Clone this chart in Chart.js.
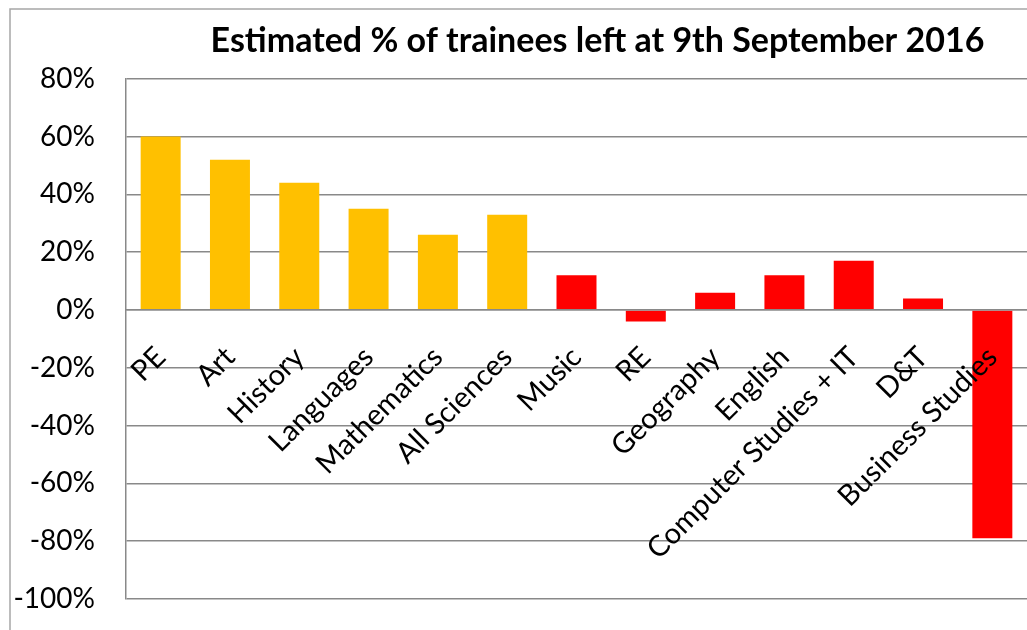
<!DOCTYPE html>
<html><head><meta charset="utf-8">
<script src="https://cdn.jsdelivr.net/npm/chart.js@4"></script>
<style>html,body{margin:0;padding:0;background:#fff;overflow:hidden}#wrap{position:relative;width:1027px;height:630px}</style>
</head><body><div id="wrap"><canvas id="c" width="1027" height="630"></canvas></div>
<script>
const categories = ['PE','Art','History','Languages','Mathematics','All Sciences','Music','RE','Geography','English','Computer Studies + IT','D&T','Business Studies'];
const values = [60, 52, 44, 35, 26, 33, 12, -4, 6, 12, 17, 4, -79];
const groups = ['high','high','high','high','high','high','low','low','low','low','low','low','low'];
const yMin = -100, yMax = 80, yStep = 20;
const titleText = 'Estimated % of trainees left at 9th September 2016';

const COLORS = { high: '#FFC000', low: '#FF0000' };
const GRID = '#898989';

const framePlugin = {
  id: 'frame',
  beforeDraw(chart) {
    const c = chart.ctx;
    c.save();
    c.fillStyle = '#fff';
    c.fillRect(0, 0, chart.width, chart.height);
    c.strokeStyle = '#a6a6a6';
    c.lineWidth = 1.5;
    c.strokeRect(10, 9, chart.width + 40, chart.height + 40);
    c.restore();
  },
  afterLayout(chart) {
    const t = chart.titleBlock;
    if (t) { t.left += 84; t.right += 84; }
  }
};

new Chart(document.getElementById('c'), {
  type: 'bar',
  data: {
    labels: categories,
    datasets: [{
      data: values,
      backgroundColor: groups.map(g => COLORS[g]),
      barPercentage: 0.577,
      categoryPercentage: 1
    }]
  },
  options: {
    responsive: false,
    animation: false,
    devicePixelRatio: 1,
    layout: { padding: { left: 0, right: 0, top: 0, bottom: 31 } },
    plugins: {
      legend: { display: false },
      tooltip: { enabled: false },
      title: {
        display: true,
        text: titleText,
        color: '#000',
        font: { family: 'Lato', size: 34, weight: 'bold' },
        padding: { top: 21, bottom: 17 }
      }
    },
    scales: {
      x: {
        position: { y: 0 },
        grid: { display: false, drawTicks: false },
        border: { display: true, color: GRID, width: 1.5, z: 1 },
        ticks: {
          z: 1,
          autoSkip: false, minRotation: 45, maxRotation: 45,
          padding: 30, labelOffset: 0,
          color: '#000', font: { family: 'Lato', size: 29 }
        },
        afterFit(s) { s.height = 0; s.paddingLeft = 0; s.paddingRight = 0; }
      },
      y: {
        min: yMin, max: yMax,
        ticks: {
          stepSize: yStep, callback: v => v + '%',
          color: '#000', font: { family: 'Lato', size: 28 }, padding: 31
        },
        grid: { color: GRID, lineWidth: 1.5, drawTicks: false },
        border: { color: GRID, width: 1.5 },
        afterFit(s) { s.width = 126; s.paddingTop = 0; s.paddingBottom = 0; }
      }
    }
  },
  plugins: [framePlugin]
});
</script></body></html>
